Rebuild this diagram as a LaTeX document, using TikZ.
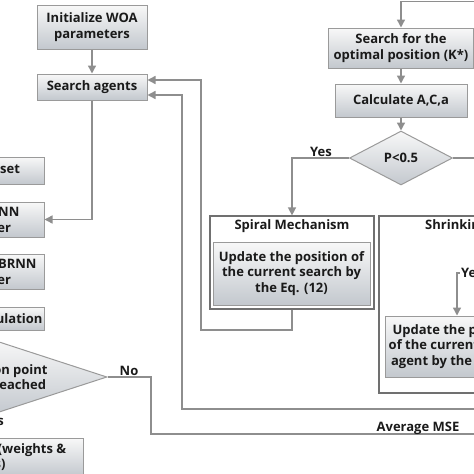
\documentclass[tikz,border=0pt]{standalone}
\usepackage{fontspec}
\setmainfont{Open Sans}
\usetikzlibrary{positioning, arrows.meta, shapes.geometric, calc}

\definecolor{linegray}{HTML}{8E8E8E}
\definecolor{boxedge}{HTML}{9A9A9A}
\definecolor{frameedge}{HTML}{707070}
\definecolor{shadetop}{HTML}{F8F8F8}
\definecolor{shadebot}{HTML}{C3C8CE}
\definecolor{txt}{HTML}{1A1A1A}

\begin{document}
\begin{tikzpicture}[x=1pt, y=-1pt,
    block/.style={rectangle, draw=boxedge, line width=1pt, top color=shadetop,
                  bottom color=shadebot, align=center, text=txt, inner sep=2pt,
                  font=\bfseries\fontsize{13}{15.5}\selectfont},
    decision/.style={diamond, draw=boxedge, line width=1pt, top color=shadetop,
                  bottom color=shadebot, align=center, text=txt, inner sep=0pt,
                  font=\bfseries\fontsize{13}{15.5}\selectfont},
    panel/.style={rectangle, draw=frameedge, line width=1.2pt, fill=white},
    arrow/.style={-{Triangle[length=8pt, width=8pt]}, draw=linegray, line width=1.4pt},
    link/.style={draw=linegray, line width=1.4pt},
    tag/.style={font=\bfseries\fontsize{13}{15}\selectfont, text=txt, inner sep=1pt}
]
    \useasboundingbox (0,0) rectangle (474,474);

    % WOA start
    \node[block, minimum width=110pt, minimum height=44pt] (init) at (92,27) {Initialize WOA\\parameters};
    \node[block, minimum width=110pt, minimum height=26pt] (agents) at (92,87) {Search agents};

    % BRNN column
    \node[block, minimum width=124pt, minimum height=27pt] (trainset) at (-18,170.5) {Training set};
    \node[block, minimum width=124pt, minimum height=35pt] (train) at (-18,219.5) {Train BRNN\\classifier};
    \node[block, minimum width=124pt, minimum height=35pt] (optbrnn) at (-18,271.5) {Optimized BRNN\\classifier};
    \node[block, minimum width=124pt, minimum height=23pt] (fitness) at (-18,318.5) {Fitness calculation};
    \node[decision, aspect=3, minimum width=236pt, minimum height=77pt] (stop) at (-11,377) {Termination point\\has been reached};
    \node[tag, anchor=east] (stopyes) at (5,421) {Yes};
    \node[block, minimum width=200pt, minimum height=38pt] (result) at (-17,457) {Optimal BRNN (weights \&\\biases)};

    % Position update
    \node[block, minimum width=145pt, minimum height=40pt] (search) at (401,48) {Search for the\\optimal position (K*)};
    \node[block, minimum width=132pt, minimum height=33pt] (calc) at (401,100.5) {Calculate A,C,a};
    \node[decision, aspect=2, minimum width=103pt, minimum height=54pt] (pdec) at (401,158) {P<0.5};

    % Spiral mechanism
    \node[panel, minimum width=164pt, minimum height=93pt] (spiral) at (292,262.5) {};
    \node[tag] (spiraltitle) at (292,226) {Spiral Mechanism};
    \node[block, minimum width=157pt, minimum height=63pt] (spiralbox) at (291.5,273.5) {Update the position of\\the current search by\\the Eq. (12)};

    % Shrinking mechanism
    \node[panel, minimum width=226pt, minimum height=177pt] (shrink) at (492,304.5) {};
    \node[tag, anchor=west] (shrinktitle) at (424,226) {Shrinking Mechanism};
    \node[block, minimum width=144pt, minimum height=61pt] (shrinkbox) at (457,346.5) {Update the position\\of the current search\\agent by the Eq. (13)};

    % Free ends
    \coordinate (topin) at (480,1.5);
    \coordinate (pright) at (480,158);
    \coordinate (yesin) at (520,273);
    \coordinate (spiralloop) at (201,330);
    \coordinate (shrinkback) at (480,409);
    \coordinate (shrinkloop) at (182,409);
    \coordinate (nocorner) at (151,434);
    \coordinate (mseout) at (480,434);

    % Left flow
    \draw[arrow] (init) -- (agents);
    \draw[arrow] (agents.south) |- (train.east);
    \draw[arrow] (spiral.south) |- (spiralloop) |- ([yshift=7pt]agents.east);
    \draw[arrow] (shrinkback) -- (shrinkloop) |- ([yshift=-8pt]agents.east);
    \draw[link] (stop.east) -| (nocorner) -- (mseout);
    \node[tag] (nolabel) at (129,371) {No};
    \node[tag] (mselabel) at (418,428) {Average MSE};

    % Right flow
    \draw[arrow] (topin) -| (search.north);
    \draw[arrow] (search) -- (calc);
    \draw[arrow] (calc) -- (pdec);
    \draw[link] (pdec.east) -- (pright);
    \draw[arrow] (pdec.west) -| (spiral.north);
    \node[tag] (pyes) at (321,152) {Yes};
    \draw[arrow] (yesin) -| (shrinkbox.north);
    \node[tag, fill=white] (shrinkyes) at (472,273) {Yes};

\end{tikzpicture}
\end{document}
